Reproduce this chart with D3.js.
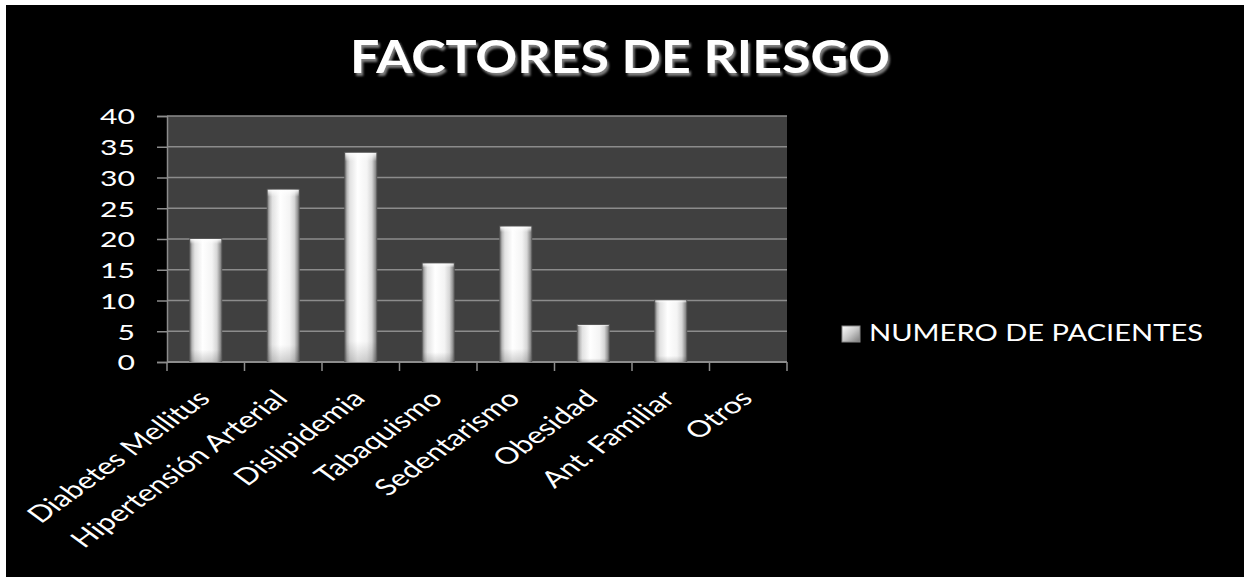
<!DOCTYPE html>
<html>
<head>
<meta charset="utf-8">
<script src="https://cdn.jsdelivr.net/npm/d3@7"></script>
<style>
  html, body { margin: 0; padding: 0; background: #ffffff; }
  svg { display: block; }
</style>
</head>
<body>
<svg id="chart" width="1244" height="577"></svg>
<script>
// Risk factors: number of patients per factor
const categories = ["Diabetes Mellitus", "Hipertensión Arterial", "Dislipidemia", "Tabaquismo",
                    "Sedentarismo", "Obesidad", "Ant. Familiar", "Otros"];
const patients = [20, 28, 34, 16, 22, 6, 10, 0];
const yTicks = [0, 5, 10, 15, 20, 25, 30, 35, 40];
const titleText = "FACTORES DE RIESGO";
const seriesName = "NUMERO DE PACIENTES";

const svg = d3.select("#chart");
const W = 1244, H = 577;
const FONT = "Lato, 'Open Sans', sans-serif";
const STRETCH = 1.376;   // text is drawn horizontally widened

// black chart background with a thin white margin on the top and left
svg.append("rect").attr("x", 0).attr("y", 0).attr("width", W).attr("height", H).attr("fill", "#ffffff");
svg.append("rect").attr("x", 6).attr("y", 5).attr("width", W - 6).attr("height", H - 5).attr("fill", "#000000");

const plot = { left: 167, right: 787, top: 116, bottom: 362 };

const x = d3.scaleBand().domain(categories).range([plot.left, plot.right]).paddingInner(0.6).paddingOuter(0.3);
const xEdge = d3.scaleBand().domain(categories).range([plot.left, plot.right]).padding(0);
const y = d3.scaleLinear().domain([0, 40]).range([plot.bottom, plot.top]);

// gradients for the bevelled bars
const defs = svg.append("defs");
const gH = defs.append("linearGradient").attr("id", "barH").attr("x1", "0").attr("x2", "1").attr("y1", "0").attr("y2", "0");
[[0, "#808080"], [0.07, "#bdbdbd"], [0.15, "#e2e2e2"], [0.4, "#ffffff"], [0.7, "#f4f4f4"], [0.86, "#d6d6d6"], [0.93, "#aaaaaa"], [1, "#7c7c7c"]]
  .forEach(([o, c]) => gH.append("stop").attr("offset", o).attr("stop-color", c));
const gV = defs.append("linearGradient").attr("id", "barV").attr("x1", "0").attr("x2", "0").attr("y1", "0").attr("y2", "1");
[[0, "#ffffff", 0.9], [0.04, "#ffffff", 0.0], [0.9, "#000000", 0.0], [1, "#000000", 0.18]]
  .forEach(([o, c, a]) => gV.append("stop").attr("offset", o).attr("stop-color", c).attr("stop-opacity", a));
const gL = defs.append("linearGradient").attr("id", "legendSw").attr("x1", "0").attr("x2", "1").attr("y1", "0").attr("y2", "1");
[[0, "#ffffff"], [0.5, "#c8c8c8"], [1, "#7a7a7a"]]
  .forEach(([o, c]) => gL.append("stop").attr("offset", o).attr("stop-color", c));
const shadow = defs.append("filter").attr("id", "titleShadow")
  .attr("x", "-10%").attr("y", "-30%").attr("width", "120%").attr("height", "160%");
shadow.append("feDropShadow").attr("dx", 2).attr("dy", 3).attr("stdDeviation", 1.2)
  .attr("flood-color", "#8a8a8a").attr("flood-opacity", 0.9);

// plot area
svg.append("rect")
  .attr("x", plot.left).attr("y", plot.top)
  .attr("width", plot.right - plot.left).attr("height", plot.bottom - plot.top)
  .attr("fill", "#404040");

// gridlines
svg.append("g")
  .selectAll("line")
  .data(yTicks.filter(d => d > 0))
  .join("line")
  .attr("x1", plot.left).attr("x2", plot.right)
  .attr("y1", d => y(d)).attr("y2", d => y(d))
  .attr("stroke", "#8c8c8c").attr("stroke-width", 1.5);

// y axis
const yAxis = svg.append("g")
  .attr("transform", `translate(${plot.left},0)`)
  .call(d3.axisLeft(y).tickValues(yTicks).tickSize(10).tickPadding(22));
yAxis.select(".domain").attr("stroke", "#8c8c8c").attr("stroke-width", 1.5);
yAxis.selectAll(".tick line").attr("stroke", "#8c8c8c").attr("stroke-width", 1.5);
yAxis.selectAll(".tick text")
  .attr("fill", "#ffffff")
  .attr("font-family", FONT)
  .attr("font-size", 21)
  .attr("dy", "0.38em")
  .attr("textLength", d => String(d).length * 17.5)
  .attr("lengthAdjust", "spacingAndGlyphs");

// x axis with ticks on category boundaries
const xAxisG = svg.append("g").attr("transform", `translate(0,${plot.bottom})`);
xAxisG.append("line")
  .attr("x1", plot.left).attr("x2", plot.right)
  .attr("y1", 0).attr("y2", 0)
  .attr("stroke", "#8c8c8c").attr("stroke-width", 2);
const boundaries = categories.map(c => xEdge(c)).concat([xEdge(categories[categories.length - 1]) + xEdge.bandwidth()]);
xAxisG.selectAll("line.tk")
  .data(boundaries)
  .join("line")
  .attr("class", "tk")
  .attr("x1", d => d).attr("x2", d => d)
  .attr("y1", 0).attr("y2", 9)
  .attr("stroke", "#8c8c8c").attr("stroke-width", 1.5);

// category labels, rotated 45° and widened
xAxisG.selectAll("text")
  .data(categories)
  .join("text")
  .attr("transform", d => `translate(${xEdge(d) + xEdge.bandwidth() / 2 + 6},${38}) scale(${STRETCH},1) rotate(-45)`)
  .attr("text-anchor", "end")
  .attr("fill", "#ffffff")
  .attr("font-family", FONT)
  .attr("font-size", 23)
  .text(d => d);

// bars
const bars = svg.append("g");
const data = categories.map((c, i) => ({ c, v: patients[i] }));
bars.selectAll("rect.shadow")
  .data(data.filter(d => d.v > 0))
  .join("rect")
  .attr("class", "shadow")
  .attr("x", d => x(d.c) - 1).attr("y", d => y(d.v) - 1)
  .attr("width", x.bandwidth() + 2).attr("height", d => y(0) - y(d.v) + 1)
  .attr("fill", "#5a5a5a");
bars.selectAll("rect.body")
  .data(data.filter(d => d.v > 0))
  .join("rect")
  .attr("class", "body")
  .attr("x", d => x(d.c)).attr("y", d => y(d.v))
  .attr("width", x.bandwidth()).attr("height", d => y(0) - y(d.v))
  .attr("fill", "url(#barH)");
bars.selectAll("rect.shade")
  .data(data.filter(d => d.v > 0))
  .join("rect")
  .attr("class", "shade")
  .attr("x", d => x(d.c)).attr("y", d => y(d.v))
  .attr("width", x.bandwidth()).attr("height", d => y(0) - y(d.v))
  .attr("fill", "url(#barV)");

// title with a soft drop shadow
svg.append("text")
  .attr("x", 620).attr("y", 73)
  .attr("text-anchor", "middle")
  .attr("font-family", FONT).attr("font-weight", 700)
  .attr("font-size", 46)
  .attr("textLength", 540).attr("lengthAdjust", "spacingAndGlyphs")
  .attr("fill", "#ffffff")
  .attr("filter", "url(#titleShadow)")
  .text(titleText);

// legend
const legend = svg.append("g").attr("transform", "translate(842,326)");
legend.append("rect").attr("x", 0).attr("y", 0).attr("width", 18).attr("height", 16)
  .attr("fill", "url(#legendSw)").attr("stroke", "#888").attr("stroke-width", 1);
legend.append("text")
  .attr("x", 27).attr("y", 15)
  .attr("fill", "#ffffff")
  .attr("font-family", FONT)
  .attr("font-size", 23)
  .attr("textLength", 334).attr("lengthAdjust", "spacingAndGlyphs")
  .text(seriesName);
</script>
</body>
</html>
